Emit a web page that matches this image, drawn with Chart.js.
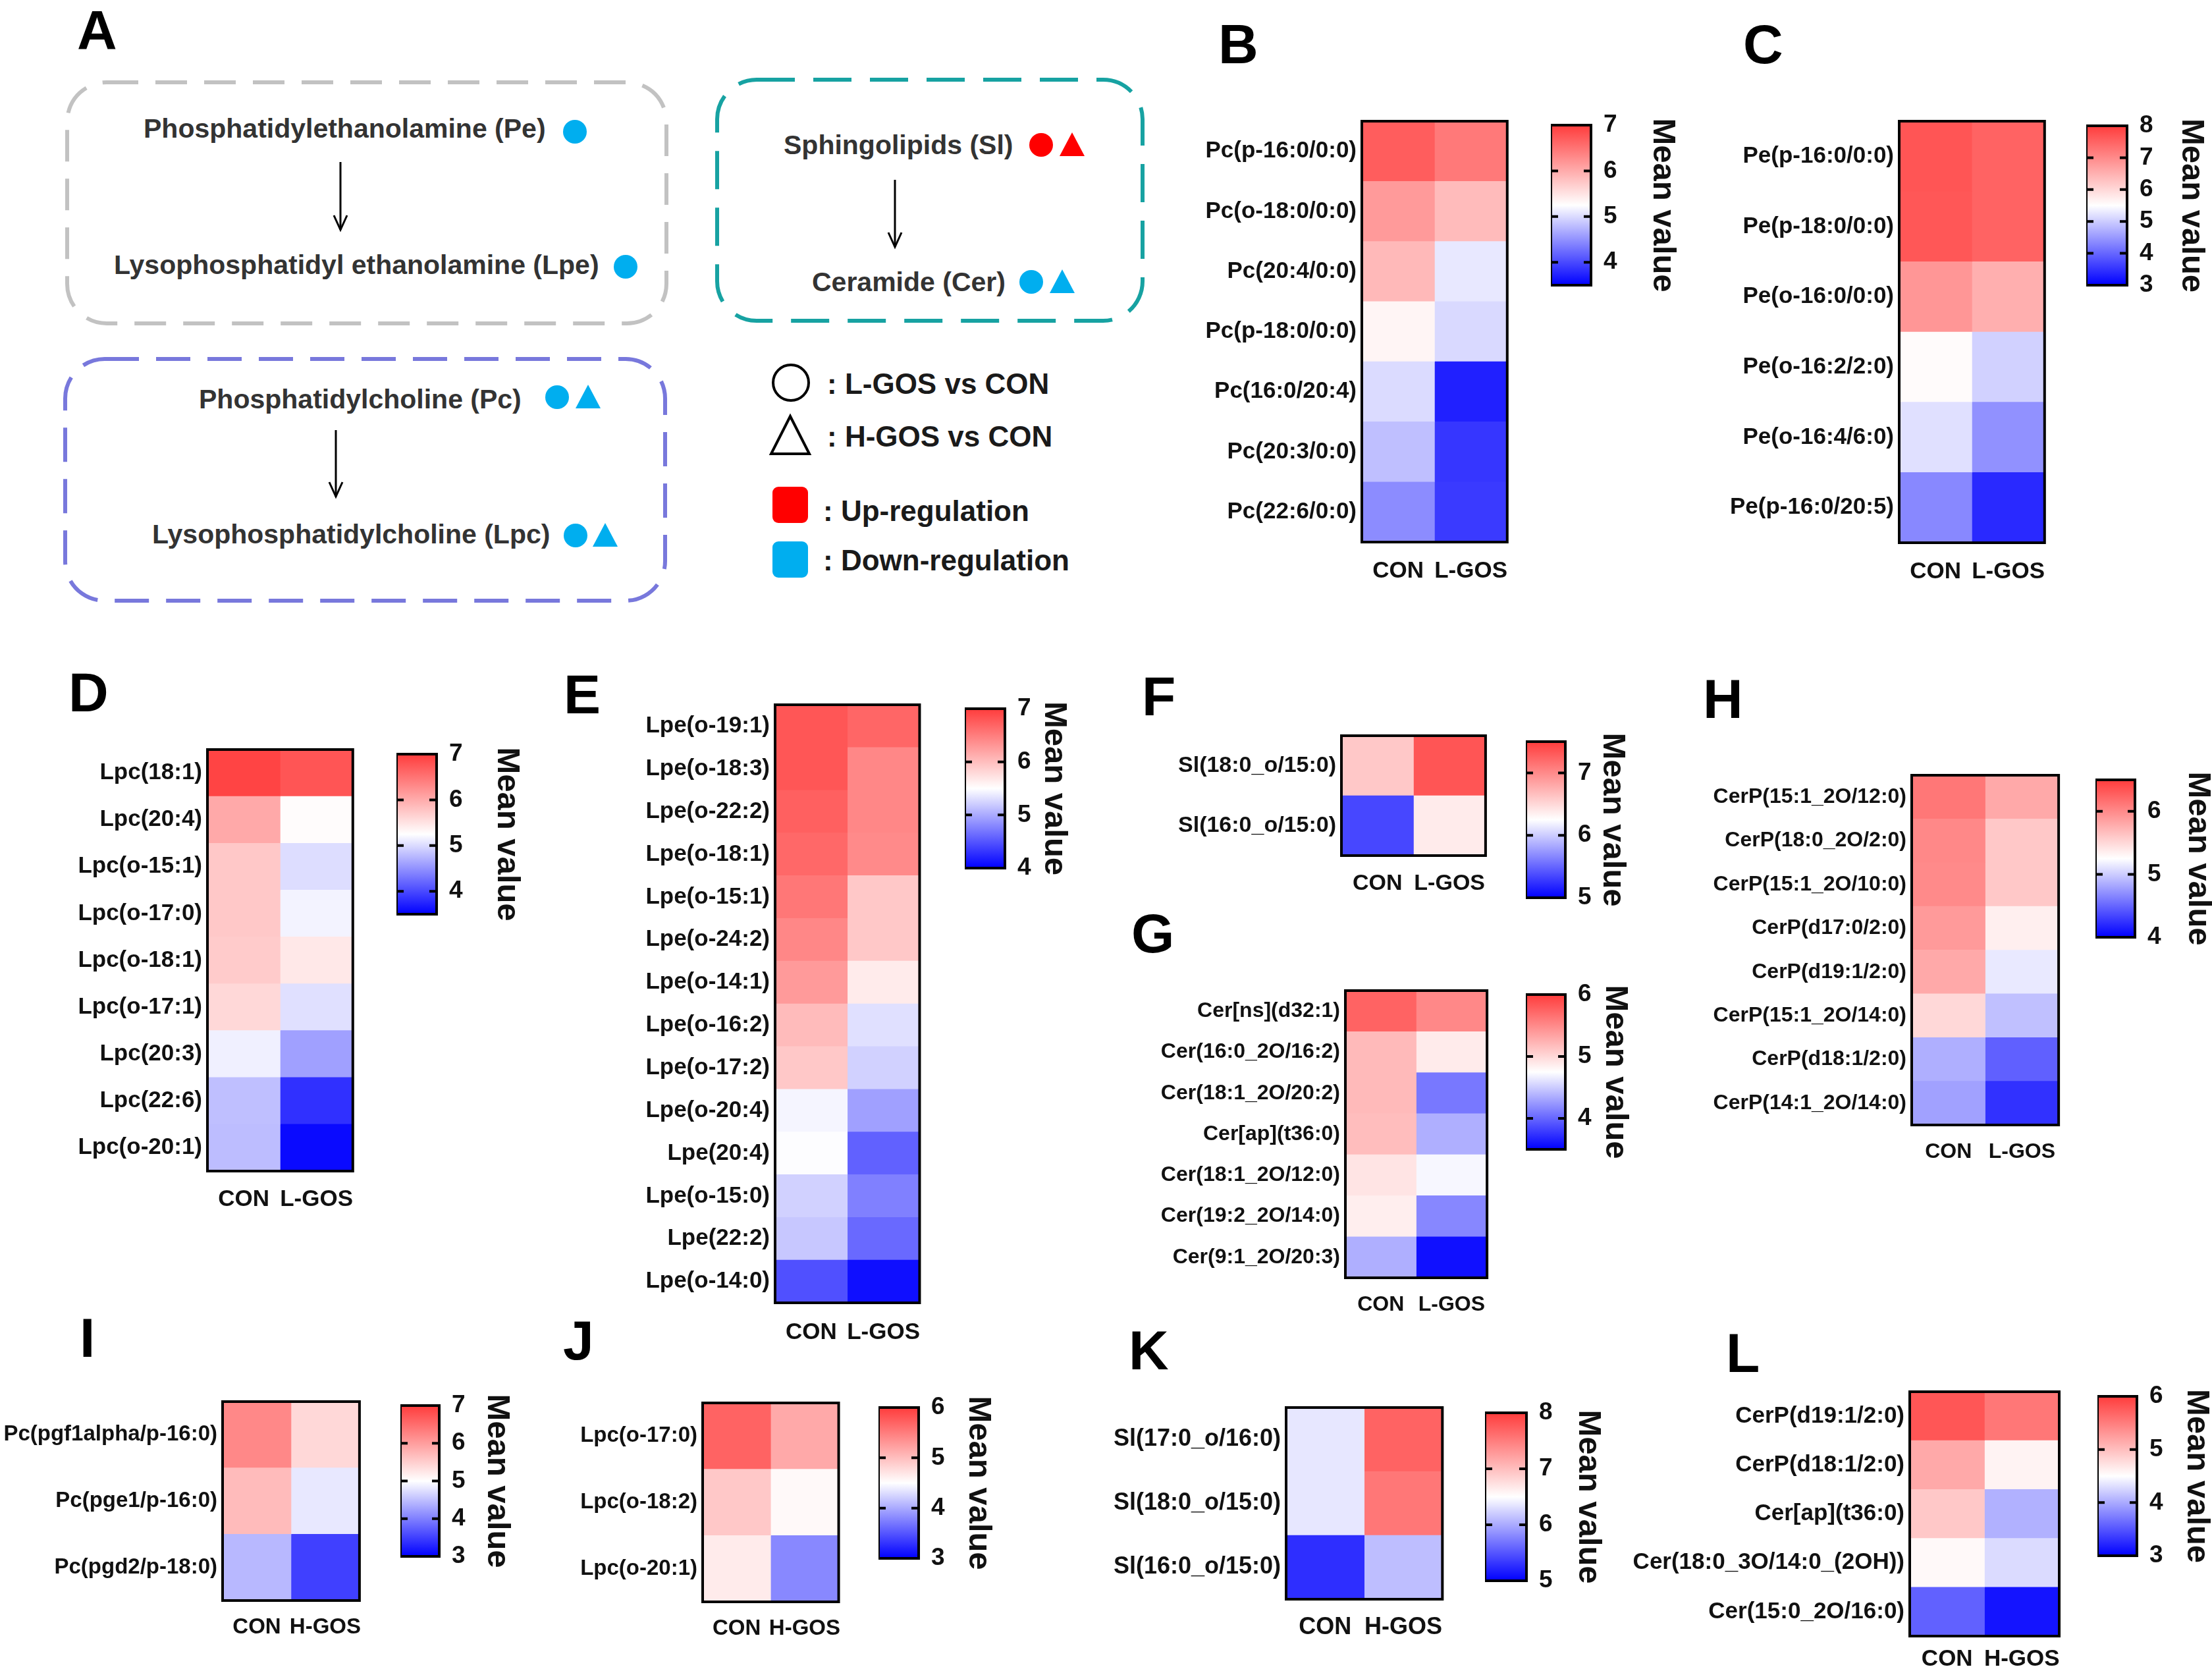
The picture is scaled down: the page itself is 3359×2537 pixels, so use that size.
<!DOCTYPE html>
<html>
<head>
<meta charset="utf-8">
<title>Lipid metabolism heatmaps</title>
<script src="https://cdn.jsdelivr.net/npm/chart.js@4.4.1/dist/chart.umd.min.js"></script>
<style>
  html, body { margin: 0; padding: 0; background: #fff; overflow: hidden; }
  #page { position: relative; width: 3359px; height: 2537px; overflow: hidden; background: #fff; }
  #page canvas { position: absolute; }
  #diagram { position: absolute; left: 0; top: 0; }
</style>
</head>
<body>
<div id="page">
<svg id="diagram" width="3359" height="2537" xmlns="http://www.w3.org/2000/svg">
  <g font-family="'Liberation Sans', Arial, sans-serif" font-weight="bold">
    <!-- panel letters -->
    <g font-size="84" fill="#000">
      <text x="117" y="75">A</text>
      <text x="1850" y="96">B</text>
      <text x="2647" y="96">C</text>
      <text x="104" y="1080">D</text>
      <text x="856" y="1083">E</text>
      <text x="1734" y="1086">F</text>
      <text x="1718" y="1446">G</text>
      <text x="2586" y="1090">H</text>
      <text x="121" y="2060">I</text>
      <text x="855" y="2064">J</text>
      <text x="1714" y="2079">K</text>
      <text x="2621" y="2083">L</text>
    </g>

    <!-- A: pathway boxes -->
    <rect x="102" y="125" width="910" height="366" rx="60" fill="none" stroke="#c2c2c2" stroke-width="6" stroke-dasharray="48 26"/>
    <rect x="1089" y="121" width="646" height="366" rx="60" fill="none" stroke="#17a2a2" stroke-width="6" stroke-dasharray="58 28"/>
    <rect x="99" y="545" width="911" height="367" rx="60" fill="none" stroke="#7878dc" stroke-width="6" stroke-dasharray="52 26"/>

    <g fill="#333" font-size="41">
      <text x="218" y="209">Phosphatidylethanolamine (Pe)</text>
      <text x="173" y="416">Lysophosphatidyl ethanolamine (Lpe)</text>
      <text x="1190" y="234">Sphingolipids (Sl)</text>
      <text x="1233" y="442">Ceramide (Cer)</text>
      <text x="302" y="620">Phosphatidylcholine (Pc)</text>
      <text x="231" y="825">Lysophosphatidylcholine (Lpc)</text>
    </g>

    <g stroke="#000" stroke-width="3" fill="none">
      <line x1="517" y1="246" x2="517" y2="349"/><polyline points="507,327 517,349 527,327"/>
      <line x1="1359" y1="273" x2="1359" y2="375"/><polyline points="1349,353 1359,375 1369,353"/>
      <line x1="510" y1="653" x2="510" y2="754"/><polyline points="500,732 510,754 520,732"/>
    </g>

    <g fill="#00aeef">
      <circle cx="873" cy="200" r="18"/>
      <circle cx="950" cy="405" r="18"/>
      <circle cx="1566" cy="428" r="18"/>
      <polygon points="1613,409 1632,445 1594,445"/>
      <circle cx="846" cy="603" r="18"/>
      <polygon points="893,584 912,620 874,620"/>
      <circle cx="874" cy="813" r="18"/>
      <polygon points="919,794 938,830 900,830"/>
    </g>
    <g fill="#ff0000">
      <circle cx="1581" cy="220" r="18"/>
      <polygon points="1628,201 1647,237 1609,237"/>
    </g>

    <!-- A: legend -->
    <circle cx="1201" cy="581" r="27" fill="none" stroke="#000" stroke-width="4"/>
    <polygon points="1200,632 1229,689 1171,689" fill="none" stroke="#000" stroke-width="4"/>
    <rect x="1173" y="739" width="54" height="55" rx="9" fill="#ff0000"/>
    <rect x="1173" y="822" width="54" height="55" rx="9" fill="#00aeef"/>
    <g fill="#1a1a1a" font-size="44">
      <text x="1256" y="598">: L-GOS vs CON</text>
      <text x="1256" y="678">: H-GOS vs CON</text>
      <text x="1250" y="791">: Up-regulation</text>
      <text x="1250" y="866">: Down-regulation</text>
    </g>
  </g>
</svg>
</div>
<script>
/* ─── data ─────────────────────────────────────────────── */
const COLS_L = ['CON', 'L-GOS'];
const COLS_H = ['CON', 'H-GOS'];

const B_rows = ['Pc(p-16:0/0:0)', 'Pc(o-18:0/0:0)', 'Pc(20:4/0:0)', 'Pc(p-18:0/0:0)', 'Pc(16:0/20:4)', 'Pc(20:3/0:0)', 'Pc(22:6/0:0)'];
const B_con = [6.70, 6.16, 5.88, 5.34, 5.00, 4.81, 4.46];
const B_gos = [6.45, 5.86, 5.09, 4.99, 3.72, 3.87, 3.90];
const B_range = [3.5, 7];
const B_ticks = [4, 5, 6, 7];

const C_rows = ['Pe(p-16:0/0:0)', 'Pe(p-18:0/0:0)', 'Pe(o-16:0/0:0)', 'Pe(o-16:2/2:0)', 'Pe(o-16:4/6:0)', 'Pe(p-16:0/20:5)'];
const C_con = [7.68, 7.65, 6.85, 5.55, 5.20, 4.33];
const C_gos = [7.50, 7.50, 6.53, 5.05, 4.42, 3.40];
const C_range = [3, 8];
const C_ticks = [3, 4, 5, 6, 7, 8];

const D_rows = ['Lpc(18:1)', 'Lpc(20:4)', 'Lpc(o-15:1)', 'Lpc(o-17:0)', 'Lpc(o-18:1)', 'Lpc(o-17:1)', 'Lpc(20:3)', 'Lpc(22:6)', 'Lpc(o-20:1)'];
const D_con = [6.93, 6.02, 5.74, 5.74, 5.72, 5.60, 5.15, 4.81, 4.80];
const D_gos = [6.78, 5.28, 5.02, 5.17, 5.46, 5.04, 4.60, 3.83, 3.57];
const D_range = [3.5, 7];
const D_ticks = [4, 5, 6, 7];

const E_rows = ['Lpe(o-19:1)', 'Lpe(o-18:3)', 'Lpe(o-22:2)', 'Lpe(o-18:1)', 'Lpe(o-15:1)', 'Lpe(o-24:2)', 'Lpe(o-14:1)',
                'Lpe(o-16:2)', 'Lpe(o-17:2)', 'Lpe(o-20:4)', 'Lpe(20:4)', 'Lpe(o-15:0)', 'Lpe(22:2)', 'Lpe(o-14:0)'];
const E_con = [6.80, 6.80, 6.72, 6.66, 6.55, 6.42, 6.28, 6.02, 5.92, 5.44, 5.49, 5.23, 5.17, 4.47];
const E_gos = [6.68, 6.42, 6.42, 6.40, 5.92, 5.92, 5.65, 5.32, 5.23, 4.94, 4.57, 4.75, 4.62, 4.09];
const E_range = [4, 7];
const E_ticks = [4, 5, 6, 7];

const F_rows = ['Sl(18:0_o/15:0)', 'Sl(16:0_o/15:0)'];
const F_con = [6.60, 5.35];
const F_gos = [7.34, 6.38];
const F_range = [5, 7.5];
const F_ticks = [5, 6, 7];

const G_rows = ['Cer[ns](d32:1)', 'Cer(16:0_2O/16:2)', 'Cer(18:1_2O/20:2)', 'Cer[ap](t36:0)', 'Cer(18:1_2O/12:0)', 'Cer(19:2_2O/14:0)', 'Cer(9:1_2O/20:3)'];
const G_con = [5.75, 5.19, 5.19, 5.17, 4.92, 4.86, 4.36];
const G_gos = [5.51, 4.88, 4.09, 4.36, 4.71, 4.16, 3.58];
const G_range = [3.5, 6];
const G_ticks = [4, 5, 6];

const H_rows = ['CerP(15:1_2O/12:0)', 'CerP(18:0_2O/2:0)', 'CerP(15:1_2O/10:0)', 'CerP(d17:0/2:0)', 'CerP(d19:1/2:0)', 'CerP(15:1_2O/14:0)', 'CerP(d18:1/2:0)', 'CerP(14:1_2O/14:0)'];
const H_con = [6.12, 6.01, 6.00, 5.90, 5.80, 5.50, 4.86, 4.79];
const H_gos = [5.80, 5.60, 5.60, 5.35, 5.14, 4.94, 4.47, 4.24];
const H_range = [4, 6.5];
const H_ticks = [4, 5, 6];

const I_rows = ['Pc(pgf1alpha/p-16:0)', 'Pc(pge1/p-16:0)', 'Pc(pgd2/p-18:0)'];
const I_con = [6.22, 5.70, 4.44];
const I_gos = [5.40, 4.82, 3.50];
const I_range = [3, 7];
const I_ticks = [3, 4, 5, 6, 7];

const J_rows = ['Lpc(o-17:0)', 'Lpc(o-18:2)', 'Lpc(o-20:1)'];
const J_con = [5.70, 4.92, 4.65];
const J_gos = [5.16, 4.55, 3.80];
const J_range = [3, 6];
const J_ticks = [3, 4, 5, 6];

const K_rows = ['Sl(17:0_o/16:0)', 'Sl(18:0_o/15:0)', 'Sl(16:0_o/15:0)'];
const K_con = [6.36, 6.36, 5.27];
const K_gos = [7.70, 7.55, 6.12];
const K_range = [5, 8];
const K_ticks = [5, 6, 7, 8];

const L_rows = ['CerP(d19:1/2:0)', 'CerP(d18:1/2:0)', 'Cer[ap](t36:0)', 'Cer(18:0_3O/14:0_(2OH))', 'Cer(15:0_2O/16:0)'];
const L_con = [5.80, 5.16, 4.92, 4.55, 3.57];
const L_gos = [5.55, 4.59, 4.04, 4.29, 3.12];
const L_range = [3, 6];
const L_ticks = [3, 4, 5, 6];

/* ─── layout (pixel boxes of each heatmap and its colour bar) ─── */
const PANELS = [
  { rows: B_rows, con: B_con, gos: B_gos, cols: COLS_L, range: B_range, ticks: B_ticks, font: 35, xPad: 23,
    box: { x: 2068, y: 184, w: 229, h: 639 }, cb: { x: 2355, y: 190, w: 61, h: 243 }, titleOff: 109 },
  { rows: C_rows, con: C_con, gos: C_gos, cols: COLS_L, range: C_range, ticks: C_ticks, font: 35, xPad: 23,
    box: { x: 2884, y: 184, w: 229, h: 640 }, cb: { x: 3168, y: 191, w: 62, h: 242 }, titleOff: 98 },
  { rows: D_rows, con: D_con, gos: D_gos, cols: COLS_L, range: D_range, ticks: D_ticks, font: 35, xPad: 22,
    box: { x: 315, y: 1138, w: 228, h: 640 }, cb: { x: 602, y: 1145, w: 61, h: 243 }, titleOff: 107 },
  { rows: E_rows, con: E_con, gos: E_gos, cols: COLS_L, range: E_range, ticks: E_ticks, font: 35, xPad: 24,
    box: { x: 1177, y: 1070, w: 229, h: 908 }, cb: { x: 1465, y: 1076, w: 61, h: 242 }, titleOff: 75 },
  { rows: F_rows, con: F_con, gos: F_gos, cols: COLS_L, range: F_range, ticks: F_ticks, font: 34, xPad: 22,
    box: { x: 2037, y: 1117, w: 225, h: 182 }, cb: { x: 2317, y: 1126, w: 60, h: 237 }, titleOff: 72 },
  { rows: G_rows, con: G_con, gos: G_gos, cols: COLS_L, range: G_range, ticks: G_ticks, font: 32, xPad: 22,
    box: { x: 2043, y: 1504, w: 219, h: 436 }, cb: { x: 2317, y: 1510, w: 60, h: 235 }, titleOff: 76 },
  { rows: H_rows, con: H_con, gos: H_gos, cols: COLS_L, range: H_range, ticks: H_ticks, font: 32, xPad: 22,
    box: { x: 2903, y: 1177, w: 225, h: 531 }, cb: { x: 3182, y: 1184, w: 60, h: 239 }, titleOff: 96 },
  { rows: I_rows, con: I_con, gos: I_gos, cols: COLS_H, range: I_range, ticks: I_ticks, font: 33, xPad: 21,
    box: { x: 338, y: 2128, w: 216, h: 302 }, cb: { x: 608, y: 2134, w: 59, h: 229 }, titleOff: 88 },
  { rows: J_rows, con: J_con, gos: J_gos, cols: COLS_H, range: J_range, ticks: J_ticks, font: 33, xPad: 21,
    box: { x: 1067, y: 2130, w: 215, h: 302 }, cb: { x: 1334, y: 2137, w: 61, h: 229 }, titleOff: 91 },
  { rows: K_rows, con: K_con, gos: K_gos, cols: COLS_H, range: K_range, ticks: K_ticks, font: 36, xPad: 21,
    box: { x: 1953, y: 2137, w: 243, h: 291 }, cb: { x: 2255, y: 2145, w: 63, h: 255 }, titleOff: 94 },
  { rows: L_rows, con: L_con, gos: L_gos, cols: COLS_H, range: L_range, ticks: L_ticks, font: 35, xPad: 14,
    box: { x: 2900, y: 2113, w: 227, h: 371 }, cb: { x: 3185, y: 2120, w: 60, h: 242 }, titleOff: 91 }
];

const INK = '#111';
const FAMILY = "'Liberation Sans', Arial, sans-serif";
const RED_END = [255, 60, 60];

Chart.defaults.font.family = FAMILY;
Chart.defaults.font.weight = 'bold';
Chart.defaults.color = INK;

// blue -> white -> red, white at the middle of the bar's range
function heatColor(v, lo, hi) {
  const mid = (lo + hi) / 2, half = (hi - lo) / 2;
  const t = Math.max(-1, Math.min(1, (v - mid) / half));
  if (t >= 0) {
    const g = Math.round(255 - t * (255 - RED_END[1]));
    return `rgb(255,${g},${g})`;
  }
  const c = Math.round(255 + t * 255);
  return `rgb(${c},${c},255)`;
}

const framePlugin = {
  id: 'frame',
  afterDatasetsDraw(chart) {
    const { ctx, chartArea: a } = chart;
    ctx.save();
    ctx.strokeStyle = '#000';
    ctx.lineWidth = 4;
    ctx.strokeRect(a.left, a.top, a.right - a.left, a.bottom - a.top);
    ctx.restore();
  }
};

// short tick marks drawn inside both edges of the colour bar
const innerTicksPlugin = {
  id: 'innerTicks',
  afterDatasetsDraw(chart) {
    const s = chart.scales.y, a = chart.chartArea, ctx = chart.ctx;
    ctx.save();
    ctx.strokeStyle = '#000';
    ctx.lineWidth = 4;
    s.ticks.forEach(t => {
      if (t.value <= s.min || t.value >= s.max) return;
      const y = s.getPixelForValue(t.value);
      ctx.beginPath();
      ctx.moveTo(a.left, y); ctx.lineTo(a.left + 11, y);
      ctx.moveTo(a.right - 11, y); ctx.lineTo(a.right, y);
      ctx.stroke();
    });
    ctx.restore();
  }
};

const page = document.getElementById('page');

function addCanvas(x, y, w, h) {
  const c = document.createElement('canvas');
  c.width = w; c.height = h;
  c.style.left = x + 'px'; c.style.top = y + 'px';
  c.style.width = w + 'px'; c.style.height = h + 'px';
  page.appendChild(c);
  return c;
}

function buildHeatmap(p) {
  const labelW = Math.min(460, p.box.x);
  const top = 40, xAxisH = 90;
  const cv = addCanvas(p.box.x - labelW, p.box.y - top, labelW + p.box.w + 20, top + p.box.h + xAxisH);
  const [lo, hi] = p.range;
  const font = { family: FAMILY, size: p.font, weight: 'bold' };

  new Chart(cv, {
    type: 'bar',
    data: {
      labels: p.rows,
      datasets: [
        { label: p.cols[0], data: p.rows.map(() => [0, 1]), backgroundColor: p.con.map(v => heatColor(v, lo, hi)) },
        { label: p.cols[1], data: p.rows.map(() => [1, 2]), backgroundColor: p.gos.map(v => heatColor(v, lo, hi)) }
      ]
    },
    options: {
      indexAxis: 'y',
      responsive: false,
      animation: false,
      devicePixelRatio: 1,
      events: [],
      layout: { padding: { top: top, right: 20, left: 0, bottom: 0 } },
      datasets: { bar: { grouped: false, barPercentage: 1, categoryPercentage: 1, borderWidth: 0 } },
      plugins: { legend: { display: false }, tooltip: { enabled: false } },
      scales: {
        x: {
          type: 'linear', min: 0, max: 2,
          grid: { display: false, drawTicks: false },
          border: { display: false },
          afterBuildTicks: s => { s.ticks = [{ value: 0.5 }, { value: 1.5 }]; },
          afterFit: s => { s.height = xAxisH; },
          ticks: { padding: p.xPad, color: INK, font, autoSkip: false, maxRotation: 0, minRotation: 0,
                   callback: (v, i) => p.cols[i] }
        },
        y: {
          grid: { display: false, drawTicks: false },
          border: { display: false },
          afterFit: s => { s.width = labelW; },
          ticks: { padding: 8, color: INK, font, autoSkip: false }
        }
      }
    },
    plugins: [framePlugin]
  });
}

function gradientFill(chart, lo, hi) {
  if (!chart.chartArea) return 'rgba(0,0,0,0)';
  const y = chart.scales.y;
  const g = chart.ctx.createLinearGradient(0, y.getPixelForValue(lo), 0, y.getPixelForValue(hi));
  g.addColorStop(0, heatColor(lo, lo, hi));
  g.addColorStop(0.5, heatColor((lo + hi) / 2, lo, hi));
  g.addColorStop(1, heatColor(hi, lo, hi));
  return g;
}

function buildColorbar(p) {
  const pad = 50;
  const axisW = p.titleOff + 29;
  const cv = addCanvas(p.cb.x, p.cb.y - pad, p.cb.w + axisW + 4, p.cb.h + 2 * pad);
  const [lo, hi] = p.range;

  new Chart(cv, {
    type: 'bar',
    data: {
      labels: ['Mean value'],
      datasets: [{ data: [[lo, hi]], backgroundColor: ctx => gradientFill(ctx.chart, lo, hi) }]
    },
    options: {
      responsive: false,
      animation: false,
      devicePixelRatio: 1,
      events: [],
      layout: { padding: { top: pad, bottom: pad, left: 0, right: 4 } },
      datasets: { bar: { barPercentage: 1, categoryPercentage: 1, borderWidth: 0 } },
      plugins: { legend: { display: false }, tooltip: { enabled: false } },
      scales: {
        x: { display: false },
        y: {
          position: 'right', min: lo, max: hi,
          grid: { display: false, drawTicks: false },
          border: { display: false },
          afterBuildTicks: s => { s.ticks = p.ticks.map(v => ({ value: v })); },
          afterFit: s => { s.width = axisW; },
          ticks: { padding: 19, color: INK, font: { family: FAMILY, size: 37, weight: 'bold' } },
          title: { display: true, text: 'Mean value', color: INK, padding: 0,
                   font: { family: FAMILY, size: 49, weight: 'bold' } }
        }
      }
    },
    plugins: [innerTicksPlugin, framePlugin]
  });
}

PANELS.forEach(p => {
  buildHeatmap(p);
  buildColorbar(p);
});
</script>
</body>
</html>
